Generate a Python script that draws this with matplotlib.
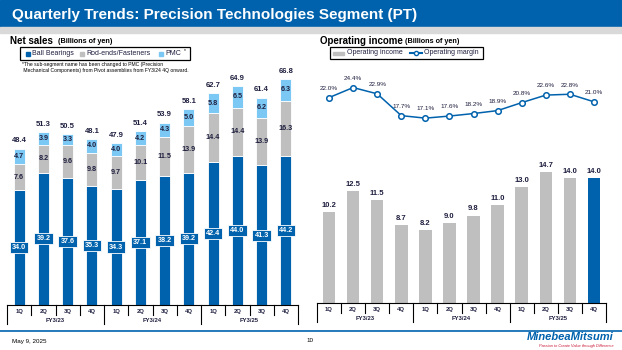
import numpy as np
import matplotlib.pyplot as plt
from matplotlib import transforms
from matplotlib.lines import Line2D
from matplotlib.patches import Rectangle

quarters = ['1Q', '2Q', '3Q', '4Q'] * 3
years = ['FY3/23', 'FY3/24', 'FY3/25']

ball = [34.0, 39.2, 37.6, 35.3, 34.3, 37.1, 38.2, 39.2, 42.4, 44.0, 41.3, 44.2]
rod = [7.6, 8.2, 9.6, 9.8, 9.7, 10.1, 11.5, 13.9, 14.4, 14.4, 13.9, 16.3]
pmc = [4.7, 3.9, 3.3, 4.0, 4.0, 4.2, 4.3, 5.0, 5.8, 6.5, 6.2, 6.3]
total = [48.4, 51.3, 50.5, 48.1, 47.9, 51.4, 53.9, 58.1, 62.7, 64.9, 61.4, 66.8]

op_income = [10.2, 12.5, 11.5, 8.7, 8.2, 9.0, 9.8, 11.0, 13.0, 14.7, 14.0, 14.0]
op_margin = [22.0, 24.4, 22.9, 17.7, 17.1, 17.6, 18.2, 18.9, 20.8, 22.6, 22.8, 21.0]

BLUE = '#0062AD'
GRAY = '#BFBFBF'
LBLUE = '#7CC8F4'
NAVY = '#1F1F3F'
W, H = 622, 350

plt.rcParams['font.family'] = ['Liberation Sans', 'DejaVu Sans']

fig = plt.figure(figsize=(W / 100, H / 100), dpi=100)


def fx(px):
    return px / W


def fy(px):
    return 1 - px / H


def add_ax(x0, x1, y0, y1):
    # pixel box -> figure axes (y0 top, y1 bottom)
    return fig.add_axes([fx(x0), fy(y1), fx(x1 - x0), (y1 - y0) / H])


# header
fig.patches.append(Rectangle((0, fy(27)), 1, 27 / H, transform=fig.transFigure,
                             color=BLUE, zorder=0))
fig.patches.append(Rectangle((0, fy(33)), 1, 6 / H, transform=fig.transFigure,
                             color='#D9D9D9', zorder=0))
fig.text(fx(12), fy(14.5), 'Quarterly Trends: Precision Technologies Segment (PT)',
         color='white', fontsize=11, fontweight='bold', va='center')

# footer
fig.add_artist(Line2D([0, 1], [fy(331), fy(331)], color=BLUE, lw=1.2))
fig.text(fx(12), fy(341), 'May 9, 2025', fontsize=4.5, va='center')
fig.text(fx(310), fy(341), '10', fontsize=4.5, va='center', ha='center')
fig.text(fx(614), fy(337), 'MinebeaMitsumi', fontsize=8, fontweight='bold',
         style='italic', color=BLUE, ha='right', va='center')
fig.text(fx(614), fy(345.5), 'Passion to Create Value through Difference', fontsize=2.8,
         color='#C8102E', ha='right', va='center', style='italic')

x = np.arange(len(quarters))


def category_axis(ax, base_px):
    tr = transforms.blended_transform_factory(ax.transData, fig.transFigure)
    ax.add_line(Line2D([-0.5, 11.5], [fy(base_px), fy(base_px)], transform=tr,
                       color='black', lw=0.8, clip_on=False))
    for b in np.arange(-0.5, 12, 1):
        low = base_px + 19 if b % 4 == 3.5 or b == -0.5 else base_px + 10
        ax.add_line(Line2D([b, b], [fy(base_px), fy(low)], transform=tr,
                           color='black', lw=0.8, clip_on=False))
    for i, q in enumerate(quarters):
        ax.text(i, fy(base_px + 6.5), q, transform=tr, ha='center', va='center',
                fontsize=4.2, fontweight='bold', color=NAVY)
    for g, yr in enumerate(years):
        ax.text(g * 4 + 1.5, fy(base_px + 16), yr, transform=tr, ha='center',
                va='center', fontsize=4.2, fontweight='bold', color=NAVY)


# ---------------- Net sales ----------------
ax1 = add_ax(7, 298, 60, 305)
bw = 0.46
ax1.bar(x, ball, bw, color=BLUE, edgecolor='white', linewidth=0.6)
b2 = np.array(ball)
ax1.bar(x, rod, bw, bottom=b2, color=GRAY, edgecolor='white', linewidth=0.6)
b3 = b2 + np.array(rod)
ax1.bar(x, pmc, bw, bottom=b3, color=LBLUE, edgecolor='white', linewidth=0.6)
top = b3 + np.array(pmc)
for i in x:
    ax1.text(i, ball[i] / 2, f'{ball[i]:.1f}', ha='center', va='center', fontsize=5.2,
             fontweight='bold', color='white',
             bbox=dict(boxstyle='square,pad=0.3', fc=BLUE, ec='white', lw=0.6))
    ax1.text(i, b2[i] + rod[i] / 2, f'{rod[i]:.1f}', ha='center', va='center',
             fontsize=5.2, fontweight='bold', color=NAVY)
    ax1.text(i, b3[i] + pmc[i] / 2, f'{pmc[i]:.1f}', ha='center', va='center',
             fontsize=5.2, fontweight='bold', color=NAVY)
    ax1.text(i, top[i] + 1.2, f'{total[i]:.1f}', ha='center', va='bottom',
             fontsize=5.5, fontweight='bold', color=NAVY)
ax1.set_xlim(-0.5, 11.5)
ax1.set_ylim(0, 72.5)
ax1.axis('off')
category_axis(ax1, 305)

fig.text(fx(10), fy(41), 'Net sales', fontsize=7, fontweight='bold', va='center')
fig.text(fx(58), fy(41.5), '(Billions of yen)', fontsize=5.2, fontweight='bold',
         va='center')
fig.patches.append(Rectangle((fx(20), fy(60)), fx(170), 13 / H, transform=fig.transFigure,
                             fill=False, ec='black', lw=0.9))
leg1 = [(BLUE, 'Ball Bearings', 26), (GRAY, 'Rod-ends/Fasteners', 80), (LBLUE, 'PMC', 159)]
for c, t, px in leg1:
    fig.patches.append(Rectangle((fx(px), fy(55.5)), fx(3.5), 3.5 / H,
                                 transform=fig.transFigure, color=c))
    fig.text(fx(px + 6), fy(53.8), t, fontsize=5, va='center', color=NAVY)
fig.text(fx(183.5), fy(51), '*', fontsize=3.5, va='center')
fig.text(fx(22), fy(67.5), '*The sub-segment name has been changed to PMC (Precision\n'
         ' Mechanical Components) from Pivot assemblies from FY3/24 4Q onward.',
         fontsize=3.6, va='center', linespacing=1.25)

# ---------------- Operating income ----------------
ax2 = add_ax(317, 606, 80, 303)
colors = [GRAY] * 11 + [BLUE]
ax2.bar(x, op_income, 0.52, color=colors)
for i in x:
    ax2.text(i, op_income[i] + 0.35, f'{op_income[i]:.1f}', ha='center', va='bottom',
             fontsize=5.5, fontweight='bold', color=NAVY)
ax2.set_xlim(-0.5, 11.5)
ax2.set_ylim(0, 25.0)
ax2.axis('off')
category_axis(ax2, 303)

ax3 = ax2.twinx()
ax3.plot(x, op_margin, color=BLUE, lw=1.1, marker='o', ms=4, mfc='white', mec=BLUE,
         mew=1.1)
for i in x:
    ax3.text(i, op_margin[i] + 1.6, f'{op_margin[i]:.1f}%', ha='center', va='bottom',
             fontsize=4.6, color=NAVY)
ax3.set_ylim(-27.0, 26.2)
ax3.set_xlim(-0.5, 11.5)
ax3.axis('off')

fig.text(fx(320), fy(41), 'Operating income', fontsize=7, fontweight='bold', va='center')
fig.text(fx(405), fy(41.5), '(Billions of yen)', fontsize=5.2, fontweight='bold',
         va='center')
fig.patches.append(Rectangle((fx(330), fy(59)), fx(153), 12 / H, transform=fig.transFigure,
                             fill=False, ec='black', lw=0.9))
fig.patches.append(Rectangle((fx(333), fy(54.5)), fx(11), 3 / H,
                             transform=fig.transFigure, color=GRAY))
fig.text(fx(347), fy(53), 'Operating income', fontsize=5, va='center', color=NAVY)
fig.add_artist(Line2D([fx(410), fx(422)], [fy(53), fy(53)], color=BLUE, lw=1.5))
fig.add_artist(Line2D([fx(416)], [fy(53)], marker='o', ms=3, mfc='white', mec=BLUE,
                      mew=1))
fig.text(fx(424), fy(53), 'Operating margin', fontsize=5, va='center', color=NAVY)

fig.savefig('out.png', dpi=100)
